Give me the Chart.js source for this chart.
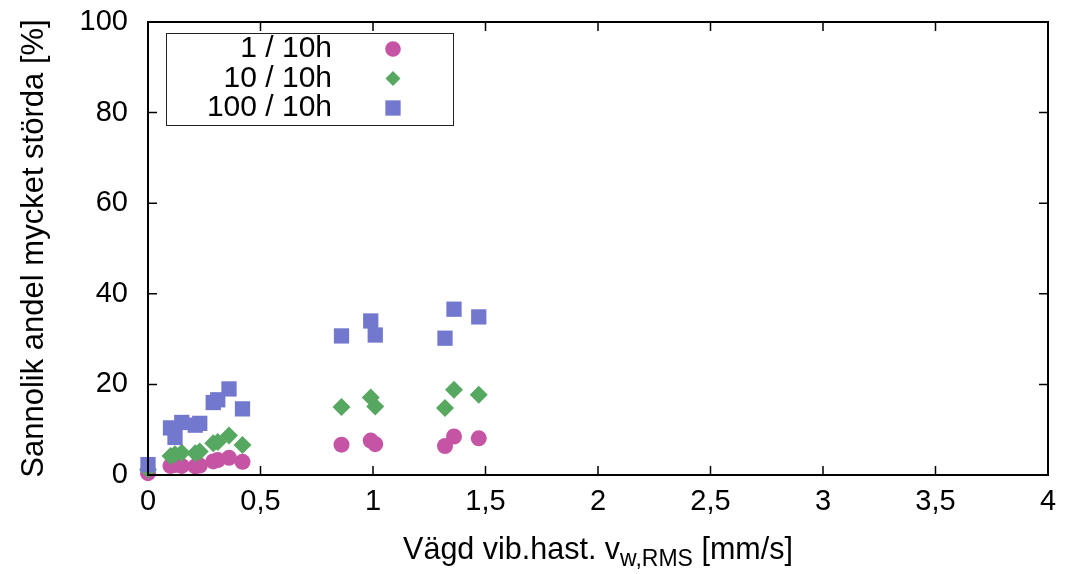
<!DOCTYPE html>
<html>
<head>
<meta charset="utf-8">
<script src="https://cdn.jsdelivr.net/npm/chart.js@4.4.0/dist/chart.umd.min.js"></script>
<style>
  body { margin: 0; background: #fff; }
  #wrap { width: 1068px; height: 574px; }
</style>
</head>
<body>
<div id="wrap"><canvas id="chart" width="1068" height="574"></canvas></div>
<script>
// weighted vibration velocity per site [mm/s]
var vibSpeed   = [0.00, 0.10, 0.12, 0.15, 0.21, 0.23, 0.29, 0.31, 0.36, 0.42, 0.86, 0.99, 1.01, 1.32, 1.36, 1.47];
// probable share highly annoyed [%] at 1, 10 and 100 passages per 10 h
var annoyed1   = [0.4, 2.0, 2.2, 2.0, 1.9, 2.1, 3.0, 3.3, 3.8, 2.9, 6.7, 7.6, 6.8, 6.4, 8.5, 8.1];
var annoyed10  = [1.2, 4.2, 4.6, 4.9, 4.8, 5.2, 7.0, 7.3, 8.7, 6.6, 15.0, 17.1, 15.1, 14.8, 18.8, 17.7];
var annoyed100 = [2.3, 10.4, 8.3, 11.6, 11.0, 11.4, 16.0, 16.6, 19.0, 14.6, 30.7, 34.0, 30.9, 30.2, 36.6, 34.9];
var seriesLabels = ['1 / 10h', '10 / 10h', '100 / 10h'];
var xTickValues = [0, 0.5, 1, 1.5, 2, 2.5, 3, 3.5, 4];
var yTickValues = [0, 20, 40, 60, 80, 100];

var FONT = '"Liberation Sans", Arial, Helvetica, sans-serif';
var colors = ['rgb(198,84,165)', 'rgb(86,167,96)', 'rgb(115,120,207)'];
var styles = ['circle', 'rectRot', 'rect'];
var radii = [8, 9, 10.8];

function toPoints(ys) {
  return vibSpeed.map(function(x, i) { return { x: x, y: ys[i] }; });
}

var series = [annoyed1, annoyed10, annoyed100];
var datasets = series.map(function(ys, i) {
  return {
    label: seriesLabels[i],
    data: toPoints(ys),
    pointStyle: styles[i],
    pointRadius: radii[i],
    pointBackgroundColor: colors[i],
    pointBorderWidth: 0,
    showLine: false,
    clip: false,
    order: 2 - i
  };
});

function marker(ctx, style, x, y, r, color) {
  ctx.fillStyle = color;
  ctx.beginPath();
  if (style === 'circle') {
    ctx.arc(x, y, r, 0, Math.PI * 2);
  } else if (style === 'rectRot') {
    ctx.moveTo(x, y - r); ctx.lineTo(x + r, y); ctx.lineTo(x, y + r); ctx.lineTo(x - r, y);
    ctx.closePath();
  } else {
    var s = r * Math.SQRT1_2;
    ctx.rect(x - s, y - s, 2 * s, 2 * s);
  }
  ctx.fill();
}

// gnuplot-like frame: border, mirrored inward ticks, legend box, subscripted x title
var framePlugin = {
  id: 'frame',
  afterDraw: function(chart) {
    var ctx = chart.ctx, a = chart.chartArea;
    var xs = chart.scales.x, ys = chart.scales.y;
    ctx.save();
    ctx.strokeStyle = '#000';
    ctx.lineWidth = 1.5;
    ctx.beginPath();
    xTickValues.forEach(function(v) {
      var px = xs.getPixelForValue(v);
      ctx.moveTo(px, a.bottom); ctx.lineTo(px, a.bottom - 9);
      ctx.moveTo(px, a.top); ctx.lineTo(px, a.top + 9);
    });
    yTickValues.forEach(function(v) {
      var py = ys.getPixelForValue(v);
      ctx.moveTo(a.left, py); ctx.lineTo(a.left + 9, py);
      ctx.moveTo(a.right, py); ctx.lineTo(a.right - 9, py);
    });
    ctx.stroke();
    ctx.lineWidth = 2;
    ctx.strokeRect(a.left, a.top, a.right - a.left, a.bottom - a.top);

    // legend
    ctx.fillStyle = '#fff';
    ctx.fillRect(166.5, 33, 287, 93);
    ctx.lineWidth = 1;
    ctx.strokeStyle = '#222';
    ctx.strokeRect(166.5, 33.5, 287, 92);
    ctx.font = '30px ' + FONT;
    ctx.textAlign = 'right';
    ctx.textBaseline = 'middle';
    var legendR = [7.8, 7.5, 10.8];
    seriesLabels.forEach(function(lbl, i) {
      var yy = 49 + i * 29.5;
      ctx.fillStyle = '#000';
      ctx.fillText(lbl, 332, yy);
      marker(ctx, styles[i], 393, yy, legendR[i], colors[i]);
    });

    // x axis title with subscript
    var big = '30.5px ' + FONT, small = '23px ' + FONT;
    var p1 = 'Vägd vib.hast. v', sub = 'w,RMS', p2 = ' [mm/s]';
    ctx.font = big; var w1 = ctx.measureText(p1).width, w3 = ctx.measureText(p2).width;
    ctx.font = small; var w2 = ctx.measureText(sub).width;
    var x0 = (a.left + a.right) / 2 - (w1 + w2 + w3) / 2, base = 559;
    ctx.textAlign = 'left';
    ctx.textBaseline = 'alphabetic';
    ctx.fillStyle = '#000';
    ctx.font = big; ctx.fillText(p1, x0, base);
    ctx.font = small; ctx.fillText(sub, x0 + w1, base + 7);
    ctx.font = big; ctx.fillText(p2, x0 + w1 + w2, base);
    ctx.restore();
  }
};

new Chart(document.getElementById('chart'), {
  type: 'scatter',
  data: { datasets: datasets },
  plugins: [framePlugin],
  options: {
    responsive: false,
    animation: false,
    events: [],
    layout: { padding: { left: 0, right: 20, top: 22, bottom: 0 } },
    plugins: { legend: { display: false }, tooltip: { enabled: false } },
    scales: {
      x: {
        type: 'linear', min: 0, max: 4,
        afterFit: function(s) { s.height = 99; s.paddingLeft = 0; s.paddingRight = 0; },
        afterBuildTicks: function(s) { s.ticks = xTickValues.map(function(v) { return { value: v }; }); },
        grid: { display: false, drawTicks: false },
        border: { display: false },
        ticks: {
          color: '#000', padding: 10, maxRotation: 0,
          font: { family: FONT, size: 29 },
          callback: function(v) { return String(v).replace('.', ','); }
        }
      },
      y: {
        type: 'linear', min: 0, max: 100,
        afterFit: function(s) { s.width = 148; s.paddingTop = 0; s.paddingBottom = 0; },
        afterBuildTicks: function(s) { s.ticks = yTickValues.map(function(v) { return { value: v }; }); },
        grid: { display: false, drawTicks: false },
        border: { display: false },
        ticks: { color: '#000', padding: 20, font: { family: FONT, size: 29 } },
        title: {
          display: true, text: 'Sannolik andel mycket störda [%]', color: '#000',
          font: { family: FONT, size: 31, lineHeight: 1 },
          padding: { top: 19, bottom: 0 }
        }
      }
    }
  }
});
</script>
</body>
</html>
